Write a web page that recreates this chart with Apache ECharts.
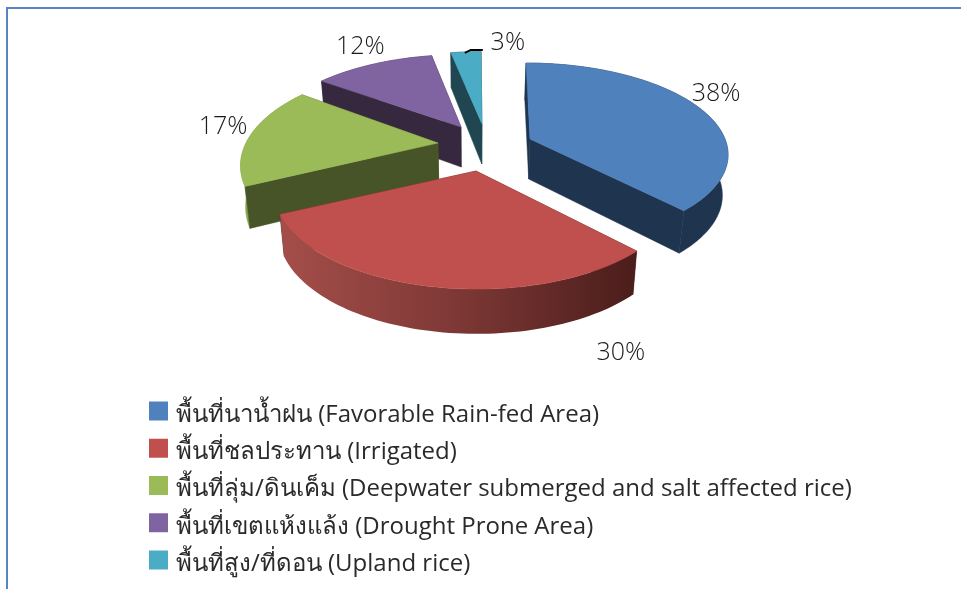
<!DOCTYPE html>
<html>
<head>
<meta charset="utf-8">
<style>
html,body{margin:0;padding:0;background:#fff;}
#main{width:961px;height:589px;}
</style>
<script src="https://cdn.jsdelivr.net/npm/echarts@6/dist/echarts.min.js"></script>
</head>
<body>
<div id="main"></div>
<script>
// data
const sliceNames = [
  'พื้นที่นาน้ำฝน (Favorable Rain-fed Area)',
  'พื้นที่ชลประทาน (Irrigated)',
  'พื้นที่ลุ่ม/ดินเค็ม (Deepwater submerged and salt affected rice)',
  'พื้นที่เขตแห้งแล้ง (Drought Prone Area)',
  'พื้นที่สูง/ที่ดอน (Upland rice)'
]
const sliceValues = [38, 30, 17, 12, 3]
const colors = ['#4f81bd', '#c0504d', '#9bbb59', '#8064a2', '#4bacc6']
const wallColors = ['#1f344f', '#4f1f1d', '#475427', '#35283f', '#1f4651']

// layout of the fake 3d pie, one entry per slice since each is pulled out differently
const apex = [[530, 139], [476, 171], [438, 143], [461, 127], [482, 124]]
const radiusX = [195, 197, 192, 195, 195]
const radiusY = [87.5, 92.5, 92.5, 88, 88]
const perspective = [0.152, 0.2166, 0.2166, 0.2166, 0.2166]
const labelOffset = [[16, -15], [191, 66], [-28, -8], [-13, -17], [42, -9]]
const drawOrder = [4, 3, 0, 2, 1]
const VX = 470

// 0 deg = back of the pie, clockwise
const persp = (i, deg, r) => 1 + perspective[i] * r * Math.cos(deg * Math.PI / 180)
function topPt(i, deg, r) {
  const a = deg * Math.PI / 180, k = persp(i, deg, r)
  const [cx, cy] = apex[i]
  return [
    cx + radiusX[i] * r * Math.sin(a) / k + (cx - VX) * (1 / k - 1) * 0.5,
    cy - radiusY[i] * r * Math.cos(a) / k
  ]
}
function botPt(i, deg, r) {
  const [x, y] = topPt(i, deg, r)
  return [VX + (x - VX) * 0.978, y + 40 + 22 * (1 - persp(i, deg, r))]
}

let sum = 0
const angles = sliceValues.map(v => {
  const s = sum
  sum += v
  return [s * 3.6, sum * 3.6]
})

function arc(fn, i, a, b) {
  const pts = []
  for (let d = a; d < b; d += 1.5) pts.push(fn(i, d, 1))
  pts.push(fn(i, b, 1))
  return pts
}

function renderSlice(i) {
  const [a, b] = angles[i]
  const poly = (points, fill, stroke) => ({
    type: 'polygon', shape: { points },
    style: { fill, stroke: stroke || fill, lineWidth: 0.5 }
  })
  const wallFill = i === 1
    ? new echarts.graphic.LinearGradient(0, 0, 1, 0, [
        { offset: 0, color: '#a54e4a' },
        { offset: 0.5, color: '#7d3835' },
        { offset: 1, color: '#4a1d1b' }
      ])
    : i === 2 ? '#8aa64f' : wallColors[i]
  const topArc = arc(topPt, i, a, b)
  const botArc = arc(botPt, i, a, b)
  const cutA = poly([topPt(i, a, 0), topPt(i, a, 1), botPt(i, a, 1), botPt(i, a, 0)], wallColors[i])
  const cutB = poly([topPt(i, b, 0), topPt(i, b, 1), botPt(i, b, 1), botPt(i, b, 0)], wallColors[i])
  const rim = poly(topArc.concat(botArc.slice().reverse()), wallFill, i === 1 ? 'transparent' : null)
  const face = poly([topPt(i, a, 0)].concat(topArc), colors[i])
  // the green cut wall sits in front of its rim
  return i === 2 ? [rim, cutA, cutB, face] : [cutA, cutB, rim, face]
}

function renderLabel(i) {
  const [a, b] = angles[i]
  const mid = topPt(i, (a + b) / 2, 1)
  const x = mid[0] + labelOffset[i][0], y = mid[1] + labelOffset[i][1]
  const out = [{
    type: 'text',
    style: {
      text: sliceValues[i] + '%', x, y, fill: '#1a1a1a',
      font: '300 25px "Open Sans", "Noto Sans", sans-serif',
      textAlign: 'center', textVerticalAlign: 'middle'
    }
  }]
  if (i === 4) {
    // leader line of the small slice
    out.push({
      type: 'polyline',
      shape: { points: [[mid[0] - 1, mid[1] + 1], [mid[0] + 5, mid[1] - 2], [mid[0] + 17, mid[1] - 2]] },
      style: { stroke: '#000', lineWidth: 2, fill: null }
    })
  }
  return out
}

const series = drawOrder.map((i, n) => ({
  name: sliceNames[i],
  type: 'custom',
  coordinateSystem: 'none',
  silent: true,
  z: n + 2,
  itemStyle: { color: colors[i] },
  data: [sliceValues[i]],
  renderItem: () => ({ type: 'group', children: renderSlice(i).concat(renderLabel(i)) })
}))

const mychart = echarts.init(document.getElementById('main'), null, { renderer: 'canvas' })
mychart.setOption({
  animation: false,
  backgroundColor: '#fff',
  legend: {
    data: sliceNames,
    orient: 'vertical',
    left: 149,
    top: 395,
    padding: 0,
    itemWidth: 19,
    itemHeight: 19,
    itemGap: 5.25,
    icon: 'rect',
    selectedMode: false,
    formatter: name => '{t|' + name + '}',
    textStyle: {
      rich: {
        t: {
          fontFamily: '"Open Sans", "Noto Sans", sans-serif',
          fontSize: 24,
          color: '#2a2a2a',
          lineHeight: 25,
          padding: [8, 0, 0, 3]
        }
      }
    }
  },
  graphic: [
    { type: 'line', shape: { x1: 6, y1: 8, x2: 961, y2: 8 }, style: { stroke: '#5585c2', lineWidth: 2 } },
    { type: 'line', shape: { x1: 7, y1: 8, x2: 7, y2: 589 }, style: { stroke: '#5585c2', lineWidth: 2 } }
  ],
  series
})
</script>
</body>
</html>
